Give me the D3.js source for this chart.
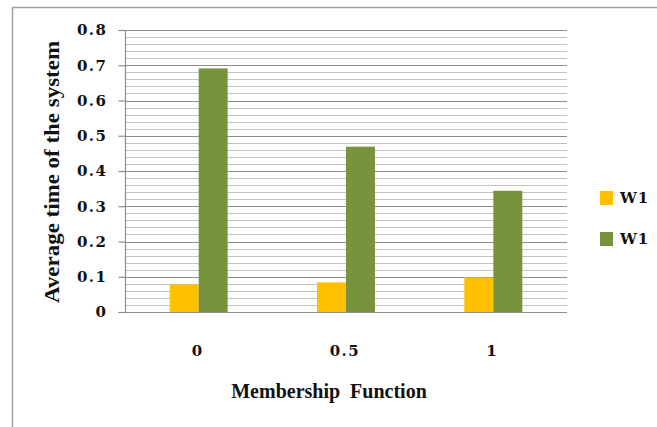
<!DOCTYPE html>
<html>
<head>
<meta charset="utf-8">
<script src="https://cdn.jsdelivr.net/npm/d3@7"></script>
<style>
  html, body { margin: 0; padding: 0; background: #fff; }
  svg { display: block; }
</style>
</head>
<body>
<svg id="chart" width="657" height="427"></svg>
<script>
// Membership function levels on the x axis
const categories = ["0", "0.5", "1"];
// Series names (both labelled W1 in the legend)
const seriesNames = ["W1", "W1"];
const seriesColors = ["#FFC000", "#77933C"];
// Average time of the system per category
const seriesA = [0.078, 0.084, 0.098];
const seriesB = [0.691, 0.469, 0.344];
const yTicks = [0, 0.1, 0.2, 0.3, 0.4, 0.5, 0.6, 0.7, 0.8];
const yTickLabels = ["0", "0.1", "0.2", "0.3", "0.4", "0.5", "0.6", "0.7", "0.8"];

const titleFont = "'Liberation Serif', 'Times New Roman', serif";
const labelFont = "'DejaVu Serif', serif";

const svg = d3.select("#chart");
const margin = { left: 125, right: 90, top: 30, bottom: 115 };
const W = 657, H = 427;
const x0 = margin.left, x1 = W - margin.right;
const yTop = margin.top, yBot = H - margin.bottom;

// Chart frame
svg.append("path")
  .attr("d", `M12.5,${H} L12.5,7.5 L${W},7.5`)
  .attr("fill", "none").attr("stroke", "#a0a0a0").attr("stroke-width", 1.5);

const x = d3.scaleBand().domain(categories).range([x0, x1]).paddingInner(0).paddingOuter(0);
const y = d3.scaleLinear().domain([0, 0.8]).range([yBot, yTop]);

// Minor gridlines every 0.02
const minor = d3.range(0, 0.8001, 0.02).filter(v => Math.abs(v * 10 - Math.round(v * 10)) > 1e-6);
svg.append("g").selectAll("line").data(minor).join("line")
  .attr("x1", x0).attr("x2", x1)
  .attr("y1", d => Math.round(y(d)) + 0.5).attr("y2", d => Math.round(y(d)) + 0.5)
  .attr("stroke", "#c2c2c2").attr("stroke-width", 1.2);

// Major gridlines every 0.1
svg.append("g").selectAll("line").data(yTicks).join("line")
  .attr("x1", x0).attr("x2", x1)
  .attr("y1", d => Math.round(y(d)) + 0.5).attr("y2", d => Math.round(y(d)) + 0.5)
  .attr("stroke", "#8c8c8c").attr("stroke-width", 1.2);

// Y axis with outward ticks
const yAxis = d3.axisLeft(y).tickValues(yTicks)
  .tickFormat((d, i) => yTickLabels[i]).tickSize(7).tickPadding(11);
const gy = svg.append("g").attr("transform", `translate(${x0 + 0.5},0)`).call(yAxis);
gy.attr("font-family", null).attr("font-size", null);
gy.select(".domain").attr("stroke", "#8c8c8c").attr("stroke-width", 1.2).attr("d", `M-7,${yTop + 0.5}H0V${yBot + 0.5}H-7`);
gy.selectAll(".tick line").attr("stroke", "#8c8c8c").attr("stroke-width", 1.2);
gy.selectAll(".tick text")
  .attr("font-family", labelFont).attr("font-weight", "bold").attr("font-size", 15)
  .attr("letter-spacing", "1.5px").attr("fill", "#111");

// Bars
const xs = d3.scaleBand().domain([0, 1]).range([0, x.bandwidth()]).paddingInner(0).paddingOuter(1.54);
const series = [seriesA, seriesB];
series.forEach((vals, si) => {
  svg.append("g").selectAll("rect").data(vals).join("rect")
    .attr("x", (d, i) => x(categories[i]) + xs(si))
    .attr("width", xs.bandwidth())
    .attr("y", d => y(d))
    .attr("height", d => y(0) - y(d))
    .attr("fill", seriesColors[si]);
});

// Baseline
svg.append("line").attr("x1", x0).attr("x2", x1)
  .attr("y1", Math.round(y(0)) + 0.5).attr("y2", Math.round(y(0)) + 0.5)
  .attr("stroke", "#8c8c8c").attr("stroke-width", 1.2);

// X category labels
svg.append("g").selectAll("text").data(categories).join("text")
  .attr("x", d => x(d) + x.bandwidth() / 2 - 1)
  .attr("y", 356)
  .attr("text-anchor", "middle")
  .attr("font-family", labelFont).attr("font-weight", "bold").attr("font-size", 15)
  .attr("letter-spacing", "1.5px").attr("fill", "#111")
  .text(d => d);

// Axis titles
svg.append("text")
  .attr("x", 329).attr("y", 398)
  .attr("text-anchor", "middle")
  .attr("font-family", titleFont).attr("font-weight", "bold").attr("font-size", 20)
  .attr("fill", "#111")
  .attr("xml:space", "preserve").style("white-space", "pre")
  .text("Membership  Function");

svg.append("text")
  .attr("transform", "translate(59,172) rotate(-90)")
  .attr("text-anchor", "middle")
  .attr("font-family", titleFont).attr("font-weight", "bold").attr("font-size", 20)
  .attr("textLength", 262).attr("lengthAdjust", "spacingAndGlyphs")
  .attr("fill", "#111")
  .text("Average time of the system");

// Legend
const legend = svg.append("g");
[0, 1].forEach(i => {
  const ly = 191 + i * 41;
  legend.append("rect").attr("x", 600).attr("y", ly).attr("width", 13).attr("height", 14).attr("fill", seriesColors[i]);
  legend.append("text").attr("x", 620).attr("y", ly + 12)
    .attr("font-family", labelFont).attr("font-weight", "bold").attr("font-size", 15)
    .attr("letter-spacing", "1px").attr("fill", "#111")
    .text(seriesNames[i]);
});
</script>
</body>
</html>
